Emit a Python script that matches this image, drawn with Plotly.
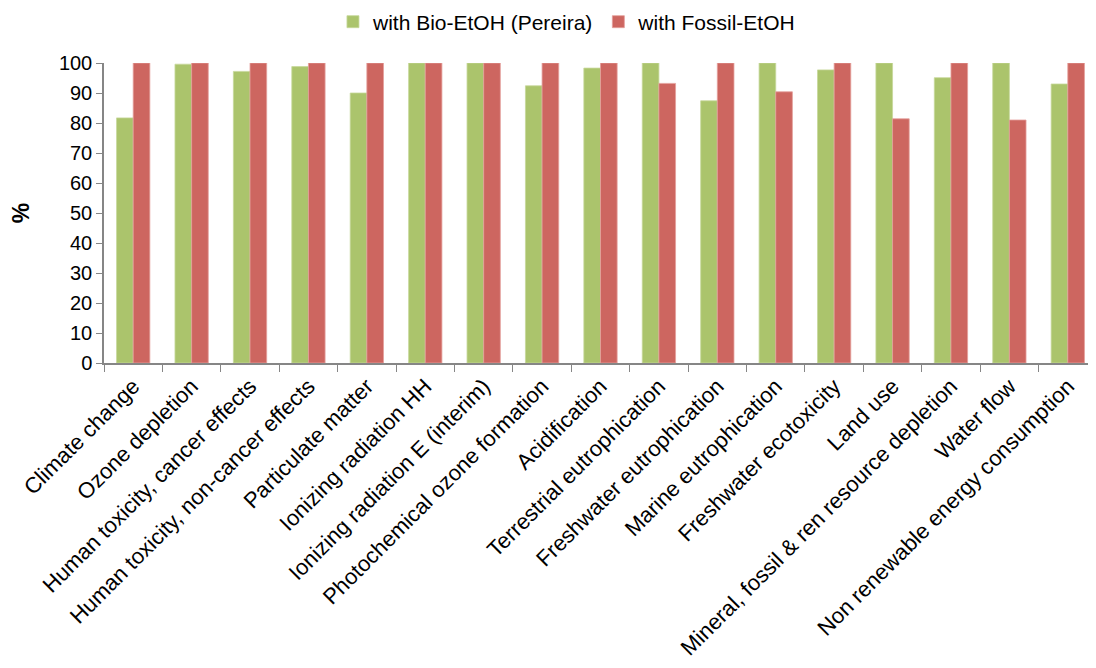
import plotly.graph_objects as go

categories = [
    "Climate change", "Ozone depletion", "Human toxicity, cancer effects",
    "Human toxicity, non-cancer effects", "Particulate matter", "Ionizing radiation HH",
    "Ionizing radiation E (interim)", "Photochemical ozone formation", "Acidification",
    "Terrestrial eutrophication", "Freshwater eutrophication", "Marine eutrophication",
    "Freshwater ecotoxicity", "Land use", "Mineral, fossil & ren resource depletion",
    "Water flow", "Non renewable energy consumption",
]
bio_etoh = [81.7, 99.6, 97.2, 98.8, 90.0, 100, 100, 92.4, 98.3, 100, 87.4, 100, 97.7, 100, 95.1, 100, 93.0]
fossil_etoh = [100, 100, 100, 100, 100, 100, 100, 100, 100, 93.2, 100, 90.4, 100, 81.4, 100, 81.0, 100]
y_ticks = [0, 10, 20, 30, 40, 50, 60, 70, 80, 90, 100]

font_family = "Liberation Sans"

fig = go.Figure()
fig.add_trace(go.Bar(x=categories, y=bio_etoh, name="with Bio-EtOH (Pereira)",
                     marker=dict(color="#ABC46C", line=dict(color="#C6D89A", width=0.8))))
fig.add_trace(go.Bar(x=categories, y=fossil_etoh, name="with Fossil-EtOH",
                     marker=dict(color="#CD6660", line=dict(color="#E5A09C", width=0.8))))

fig.update_layout(
    width=1096, height=668,
    margin=dict(l=96, r=7, t=55, b=313, autoexpand=False),
    plot_bgcolor="white", paper_bgcolor="white",
    barmode="group", bargap=0.43, bargroupgap=0,
    font=dict(family=font_family, size=20, color="#000000"),
    legend=dict(orientation="h", x=0.51, xref="container", xanchor="center",
                y=0.979, yref="container", yanchor="middle",
                font=dict(size=21), traceorder="normal", itemwidth=30),
    showlegend=True,
)
fig.update_xaxes(
    type="category", tickangle=-45, showline=True, linecolor="#868686", linewidth=1.5,
    ticks="outside", tickson="boundaries", ticklen=7, tickcolor="#868686",
    tickfont=dict(size=22), showgrid=False, automargin=False,
)
fig.update_yaxes(
    range=[0, 100], tickvals=y_ticks, showline=True, linecolor="#868686", linewidth=1.5,
    ticks="outside", ticklen=6, tickcolor="#868686", showgrid=False, zeroline=False,
    tickfont=dict(size=20), automargin=False,
    title=dict(text="<b>%</b>", font=dict(size=23), standoff=28),
)

fig.write_html("out.html")
